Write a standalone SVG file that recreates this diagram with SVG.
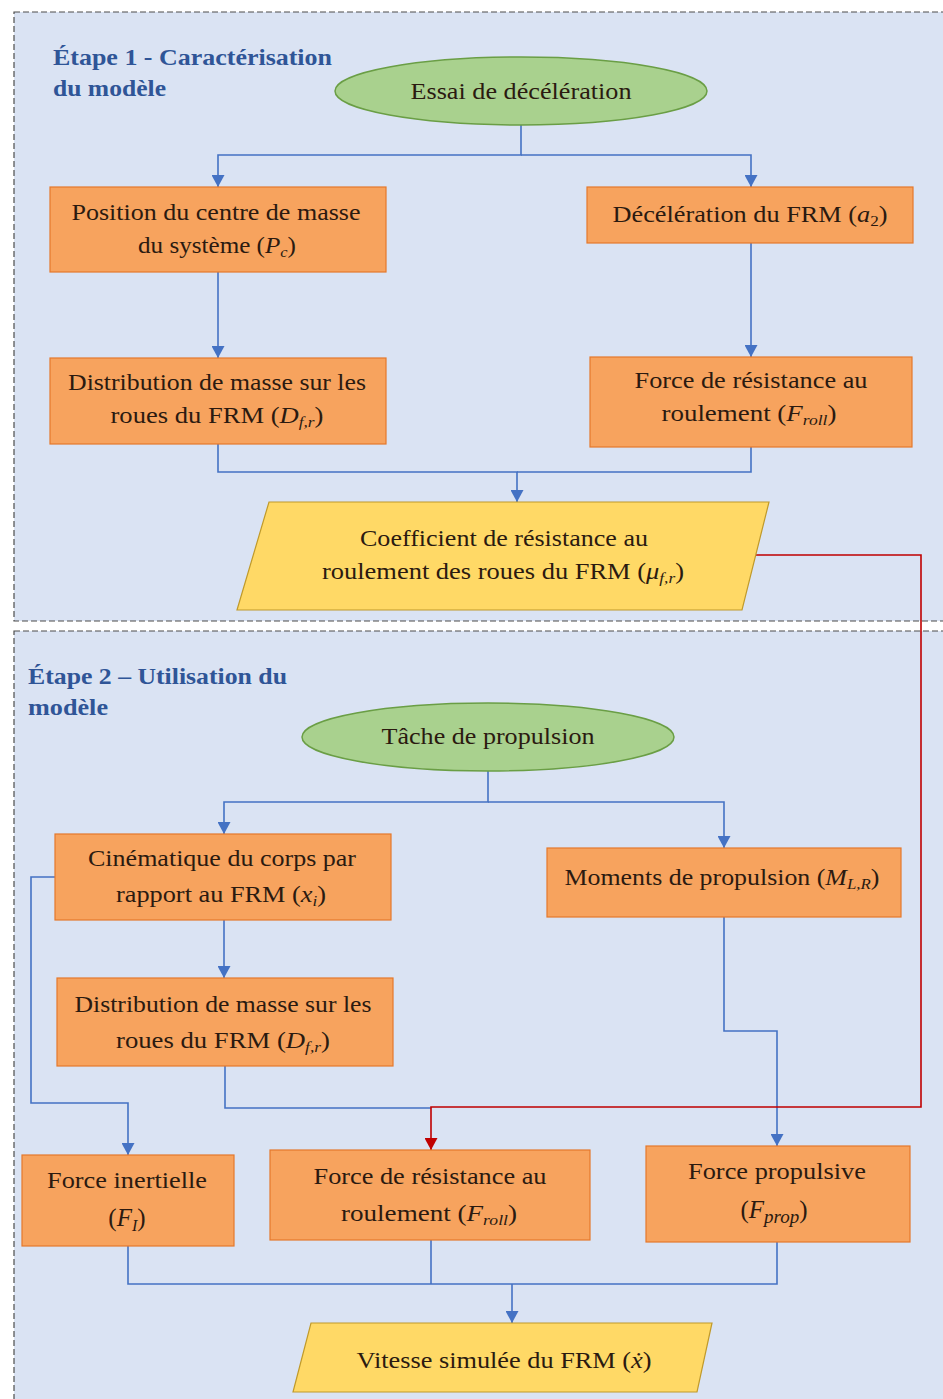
<svg xmlns="http://www.w3.org/2000/svg" width="943" height="1399" viewBox="0 0 943 1399">
  <style>
    .panel { fill: #dae3f3; stroke: #4d4d4d; stroke-width: 1.2; stroke-dasharray: 6 3; }
    .title { font-family: "Liberation Serif", "Times New Roman", serif; font-weight: bold; font-size: 24px; fill: #2f5597; }
    .box { fill: #f7a35e; stroke: #e5782c; stroke-width: 1.2; }
    .start { fill: #a9d18e; stroke: #6a9e45; stroke-width: 1.5; }
    .io { fill: #ffd966; stroke: #c09a2a; stroke-width: 1.2; }
    .t { font-family: "Liberation Serif", "Times New Roman", serif; font-size: 23px; fill: #2b1a10; text-anchor: middle; }
    .big { font-size: 25px; }
    .m { font-style: italic; }
    .conn { fill: none; stroke: #4472c4; stroke-width: 1.6; }
    .red { fill: none; stroke: #c00000; stroke-width: 1.6; }
  </style>
  <defs>
    <marker id="arrow" markerUnits="userSpaceOnUse" markerWidth="13" markerHeight="13" refX="12" refY="6.5" orient="auto">
      <path d="M0,0 L12,6.5 L0,13 z" fill="#4472c4"/>
    </marker>
    <marker id="arrowRed" markerUnits="userSpaceOnUse" markerWidth="13" markerHeight="13" refX="12" refY="6.5" orient="auto">
      <path d="M0,0 L12,6.5 L0,13 z" fill="#c00000"/>
    </marker>
  </defs>

  <rect width="943" height="1399" fill="#ffffff"/>

  <!-- stage panels -->
  <g id="panel-1">
    <rect class="panel" x="14" y="12" width="940" height="609"/>
    <text class="title" x="53" y="65" textLength="279" lengthAdjust="spacingAndGlyphs">Étape 1 - Caractérisation</text>
    <text class="title" x="53" y="96" textLength="113" lengthAdjust="spacingAndGlyphs">du modèle</text>
  </g>
  <g id="panel-2">
    <rect class="panel" x="14" y="631" width="940" height="790"/>
    <text class="title" x="28" y="684" textLength="259" lengthAdjust="spacingAndGlyphs">Étape 2 – Utilisation du</text>
    <text class="title" x="28" y="715" textLength="80" lengthAdjust="spacingAndGlyphs">modèle</text>
  </g>

  <!-- connectors -->
  <g id="connectors">
    <path class="conn" d="M521,125 V155 H218 V187" marker-end="url(#arrow)"/>
    <path class="conn" d="M521,155 H751 V187" marker-end="url(#arrow)"/>
    <path class="conn" d="M218,272 V358" marker-end="url(#arrow)"/>
    <path class="conn" d="M751,243 V357" marker-end="url(#arrow)"/>
    <path class="conn" d="M218,444 V472 H517 V502" marker-end="url(#arrow)"/>
    <path class="conn" d="M751,447 V472 H517"/>
    <path class="conn" d="M488,771 V802 H224 V834" marker-end="url(#arrow)"/>
    <path class="conn" d="M488,802 H724 V848" marker-end="url(#arrow)"/>
    <path class="conn" d="M224,920 V978" marker-end="url(#arrow)"/>
    <path class="conn" d="M55,877 H31 V1103 H128 V1155" marker-end="url(#arrow)"/>
    <path class="conn" d="M225,1066 V1108 H431"/>
    <path class="conn" d="M724,917 V1031 H777 V1146" marker-end="url(#arrow)"/>
    <path class="conn" d="M128,1246 V1284 H777 V1242"/>
    <path class="conn" d="M431,1240 V1284"/>
    <path class="conn" d="M512,1284 V1323" marker-end="url(#arrow)"/>
    <path class="red" d="M756,555 H921 V1107 H431 V1150" marker-end="url(#arrowRed)"/>
  </g>

  <!-- stage 1 -->
  <g id="essai-deceleration">
    <ellipse class="start" cx="521" cy="91" rx="186" ry="34"/>
    <text class="t" x="521" y="99" textLength="221" lengthAdjust="spacingAndGlyphs">Essai de décélération</text>
  </g>
  <g id="position-centre-masse">
    <rect class="box" x="50" y="187" width="336" height="85"/>
    <text class="t" x="216" y="220" textLength="289" lengthAdjust="spacingAndGlyphs">Position du centre de masse</text>
    <text class="t" x="217" y="253" textLength="158" lengthAdjust="spacingAndGlyphs">du système (<tspan class="m">P</tspan><tspan class="m" font-size="15" dy="4">c</tspan><tspan dy="-4">)</tspan></text>
  </g>
  <g id="deceleration-frm">
    <rect class="box" x="587" y="187" width="326" height="56"/>
    <text class="t" x="750" y="222" textLength="275" lengthAdjust="spacingAndGlyphs">Décélération du FRM (<tspan class="m">a</tspan><tspan font-size="15" dy="4">2</tspan><tspan dy="-4">)</tspan></text>
  </g>
  <g id="distribution-masse-1">
    <rect class="box" x="50" y="358" width="336" height="86"/>
    <text class="t" x="217" y="390" textLength="298" lengthAdjust="spacingAndGlyphs">Distribution de masse sur les</text>
    <text class="t" x="217" y="423" textLength="213" lengthAdjust="spacingAndGlyphs">roues du FRM (<tspan class="m">D</tspan><tspan class="m" font-size="15" dy="4">f,r</tspan><tspan dy="-4">)</tspan></text>
  </g>
  <g id="resistance-roulement-1">
    <rect class="box" x="590" y="357" width="322" height="90"/>
    <text class="t" x="751" y="388" textLength="233" lengthAdjust="spacingAndGlyphs">Force de résistance au</text>
    <text class="t" x="749" y="421" textLength="175" lengthAdjust="spacingAndGlyphs">roulement (<tspan class="m">F</tspan><tspan class="m" font-size="15" dy="4">roll</tspan><tspan dy="-4">)</tspan></text>
  </g>
  <g id="coefficient-resistance">
    <polygon class="io" points="269,502 769,502 742,610 237,610"/>
    <text class="t" x="504" y="546" textLength="288" lengthAdjust="spacingAndGlyphs">Coefficient de résistance au</text>
    <text class="t" x="503" y="579" textLength="362" lengthAdjust="spacingAndGlyphs">roulement des roues du FRM (<tspan class="m">μ</tspan><tspan class="m" font-size="15" dy="4">f,r</tspan><tspan dy="-4">)</tspan></text>
  </g>

  <!-- stage 2 -->
  <g id="tache-propulsion">
    <ellipse class="start" cx="488" cy="737" rx="186" ry="34"/>
    <text class="t" x="488" y="744" textLength="213" lengthAdjust="spacingAndGlyphs">Tâche de propulsion</text>
  </g>
  <g id="cinematique-corps">
    <rect class="box" x="55" y="834" width="336" height="86"/>
    <text class="t" x="222" y="866" textLength="268" lengthAdjust="spacingAndGlyphs">Cinématique du corps par</text>
    <text class="t" x="221" y="902" textLength="210" lengthAdjust="spacingAndGlyphs">rapport au FRM (<tspan class="m">x</tspan><tspan class="m" font-size="15" dy="4">i</tspan><tspan dy="-4">)</tspan></text>
  </g>
  <g id="moments-propulsion">
    <rect class="box" x="547" y="848" width="354" height="69"/>
    <text class="t" x="722" y="885" textLength="315" lengthAdjust="spacingAndGlyphs">Moments de propulsion (<tspan class="m">M</tspan><tspan class="m" font-size="15" dy="4">L,R</tspan><tspan dy="-4">)</tspan></text>
  </g>
  <g id="distribution-masse-2">
    <rect class="box" x="57" y="978" width="336" height="88"/>
    <text class="t" x="223" y="1012" textLength="297" lengthAdjust="spacingAndGlyphs">Distribution de masse sur les</text>
    <text class="t" x="223" y="1048" textLength="214" lengthAdjust="spacingAndGlyphs">roues du FRM (<tspan class="m">D</tspan><tspan class="m" font-size="15" dy="4">f,r</tspan><tspan dy="-4">)</tspan></text>
  </g>
  <g id="force-inertielle">
    <rect class="box" x="22" y="1155" width="212" height="91"/>
    <text class="t" x="127" y="1188" textLength="160" lengthAdjust="spacingAndGlyphs">Force inertielle</text>
    <text class="t big" x="127" y="1226">(<tspan class="m">F</tspan><tspan class="m" font-size="16" dy="5">I</tspan><tspan dy="-5">)</tspan></text>
  </g>
  <g id="resistance-roulement-2">
    <rect class="box" x="270" y="1150" width="320" height="90"/>
    <text class="t" x="430" y="1184" textLength="233" lengthAdjust="spacingAndGlyphs">Force de résistance au</text>
    <text class="t" x="429" y="1221" textLength="176" lengthAdjust="spacingAndGlyphs">roulement (<tspan class="m">F</tspan><tspan class="m" font-size="15" dy="4">roll</tspan><tspan dy="-4">)</tspan></text>
  </g>
  <g id="force-propulsive">
    <rect class="box" x="646" y="1146" width="264" height="96"/>
    <text class="t" x="777" y="1179" textLength="178" lengthAdjust="spacingAndGlyphs">Force propulsive</text>
    <text class="t big" x="774" y="1218">(<tspan class="m">F</tspan><tspan class="m" font-size="19" dy="5">prop</tspan><tspan dy="-5">)</tspan></text>
  </g>
  <g id="vitesse-simulee">
    <polygon class="io" points="311,1323 712,1323 697,1392 293,1392"/>
    <text class="t" x="504" y="1368" textLength="295" lengthAdjust="spacingAndGlyphs">Vitesse simulée du FRM (<tspan class="m">ẋ</tspan>)</text>
  </g>
</svg>
